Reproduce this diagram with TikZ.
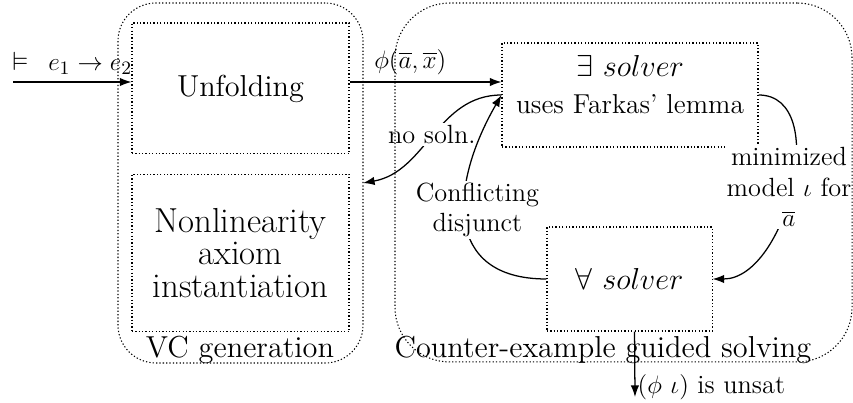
\documentclass[tikz,border=0pt]{standalone}
\usepackage{amsmath}
\usepackage{amssymb}
\usetikzlibrary{arrows.meta}

\begin{document}
\begin{tikzpicture}[x=0.475pt, y=-0.475pt,
		stage/.style={draw, dash pattern=on 0.6pt off 1pt, line width=0.5pt, rectangle, align=center},
		group/.style={draw, dash pattern=on 0.6pt off 1pt, line width=0.5pt, rectangle},
		flow/.style={-{Latex[length=5.5pt, width=4pt]}, semithick},
		lbl/.style={font=\fontsize{12.5}{14.5}\selectfont, align=center}]
	\useasboundingbox (0,0) rectangle (853,403);
	\node[stage, minimum width=103.1pt, minimum height=62.2pt, font=\Large] (Unf) at (240.5, 88.5) {Unfolding};
	\node[stage, minimum width=103.1pt, minimum height=75pt, font=\fontsize{16.5}{15.6}\selectfont] (Nonlin) at (240.5, 253) {Nonlinearity\\axiom\\instantiation};
	\node[stage, minimum width=121.6pt, minimum height=49.4pt, font=\fontsize{13}{15}\selectfont] (Ex) at (630, 95) {{\Large $\exists\ solver$}\\[3pt]uses Farkas' lemma\\[-5pt]\mbox{}};
	\node[stage, minimum width=78.4pt, minimum height=49.4pt, font=\Large] (Fa) at (629.5, 279) {$\forall\ solver$};
	\coordinate (In) at (13, 82);
	\coordinate (VCe) at (363, 183);
	\coordinate (Unsat) at (635, 397);
	% connectors
	\draw[flow, above] (In) -- (In -| Unf.west) node[midway, lbl] {$\vDash\ \, e_1 \rightarrow e_2$};
	\draw[flow, above] (Unf.east |- In) -- (In -| Ex.west) node[pos=0.4, lbl] {$\phi(\overline{a},\overline{x})$};
	\draw[flow] (Ex.west) to[out=180, in=10] node[midway, lbl, fill=white, inner sep=1pt] {no soln.} (VCe);
	\draw[flow] (Fa.west) to[out=180, in=240, looseness=1.4] node[pos=0.55, xshift=6pt, lbl, fill=white, inner sep=1pt] {Conflicting\\disjunct} (Ex.west);
	\draw[flow] (Ex.east) to[out=0, in=0] node[midway, xshift=-1pt, lbl, fill=white, inner sep=1pt] {minimized\\model $\iota$ for\\$\overline{a}$} (Fa.east);
	\draw[flow] ([xshift=2.4pt]Fa.south) -- (Unsat) node[pos=0.85, right, lbl, inner sep=1pt] {$(\phi\ \iota)$ is unsat};
	% groups
	\node[group, minimum width=116.4pt, minimum height=171pt, rounded corners=18pt] (VC) at (240.5, 183) {};
	\node[font=\Large, anchor=base] (VClbl) at (240, 358) {VC generation};
	\node[group, minimum width=217.1pt, minimum height=170.5pt, rounded corners=26pt] (CEG) at (623.5, 182.5) {};
	\node[font=\Large, anchor=base] (CEGlbl) at (603, 358) {Counter-example guided solving};
\end{tikzpicture}
\end{document}
